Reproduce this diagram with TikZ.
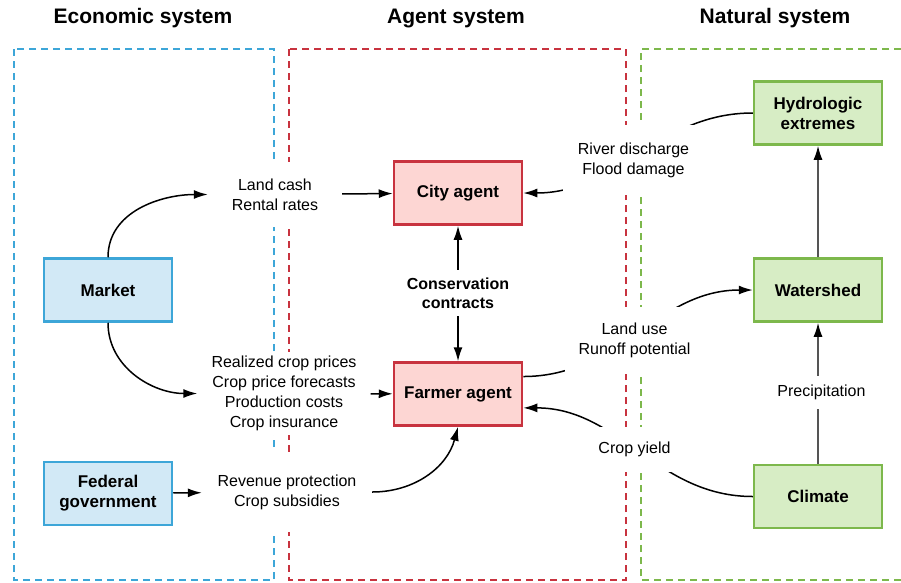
\documentclass[tikz,border=0pt]{standalone}
\usepackage{fontspec}
\setmainfont{Liberation Sans}
\usetikzlibrary{arrows.meta}
\definecolor{econblue}{HTML}{3DA6D8}
\definecolor{econfill}{HTML}{D2E9F6}
\definecolor{agentred}{HTML}{C8333F}
\definecolor{agentfill}{HTML}{FDD6D3}
\definecolor{natgreen}{HTML}{7DB84C}
\definecolor{natfill}{HTML}{D7EDC5}
\definecolor{linkgrey}{HTML}{555555}

\begin{document}
\begin{tikzpicture}[x=1pt, y=1pt, >={Latex[length=14pt,width=9pt,color=black]},
        box/.style={rectangle, draw, line width=2.5pt, minimum width=128pt, minimum height=63pt, align=center, font=\fontsize{17}{20}\selectfont\bfseries},
        econ/.style={box, draw=econblue, fill=econfill},
        agent/.style={box, draw=agentred, fill=agentfill},
        nature/.style={box, draw=natgreen, fill=natfill},
        flow/.style={rectangle, fill=white, inner sep=0pt, align=center, font=\fontsize{16}{20}\selectfont},
        title/.style={font=\fontsize{21}{24}\selectfont\bfseries},
        frame/.style={dash pattern=on 7pt off 5pt, line width=1.8pt},
        link/.style={line width=1.5pt}]
        \useasboundingbox (0,0) rectangle (901,-582);

        \node[title] (econtitle) at (143,-18) {Economic system};
        \node[title] (agenttitle) at (456,-18) {Agent system};
        \node[title] (nattitle) at (775,-18) {Natural system};

        \draw[frame, econblue] (14,-49) rectangle (274,-580);
        \draw[frame, agentred] (289,-49) rectangle (626,-580);
        \draw[frame, natgreen] (901,-49) -- (641,-49) -- (641,-580) -- (901,-580);

        \node[econ] (market) at (108,-290) {Market};
        \node[econ] (federal) at (108,-493.5) {Federal\\government};
        \node[agent] (city) at (458,-193) {City agent};
        \node[agent] (farmer) at (458,-394) {Farmer agent};
        \node[nature] (hydro) at (818,-113) {Hydrologic\\extremes};
        \node[nature] (watershed) at (818,-290) {Watershed};
        \node[nature] (climate) at (818,-496.5) {Climate};

        \draw[link, ->] (hydro.west) to[out=180, in=0] (city.east);
        \draw[link, ->] (farmer.15) to[out=0, in=180] (watershed.west);
        \draw[link, ->] (climate.west) to[out=180, in=0] (farmer.-12);
        \draw[link, linkgrey, ->] (climate) -- (watershed);
        \draw[link, linkgrey, ->] (watershed) -- (hydro);

        \node[flow, minimum width=134pt, minimum height=65pt] (landcash) at (275,-194.5) {Land cash\\Rental rates};
        \node[flow, minimum width=173pt, minimum height=83pt] (prices) at (284,-393.5) {Realized crop prices\\Crop price forecasts\\Production costs\\Crop insurance};
        \node[flow, minimum width=170pt, minimum height=80pt] (revenue) at (287,-492) {Revenue protection\\Crop subsidies};
        \node[flow, font=\fontsize{16}{19}\selectfont\bfseries, minimum height=46pt] (contracts) at (458,-293) {Conservation\\contracts};
        \node[flow, minimum width=141pt, minimum height=70pt] (discharge) at (633.5,-160) {River discharge\\Flood damage};
        \node[flow, minimum width=139pt, minimum height=67pt] (landuse) at (634.5,-340.5) {Land use\\Runoff potential};
        \node[flow, minimum width=80pt, minimum height=45pt] (yield) at (634.5,-449.5) {Crop yield};
        \node[flow, minimum width=92pt, minimum height=33pt] (precip) at (821.5,-392.5) {Precipitation};

        \draw[link, ->] (market.north) to[out=90, in=180] (landcash.west);
        \draw[link, ->] (landcash) -- (city);
        \draw[link, ->] (market.south) to[out=-90, in=180] (prices.west);
        \draw[link, ->] (prices) -- (farmer);
        \draw[link, ->] (federal) -- (revenue);
        \draw[link, ->] (revenue.east) to[out=0, in=-105] (farmer.south);
        \draw[link, ->] (contracts) -- (city);
        \draw[link, ->] (contracts) -- (farmer);
    \end{tikzpicture}
\end{document}
